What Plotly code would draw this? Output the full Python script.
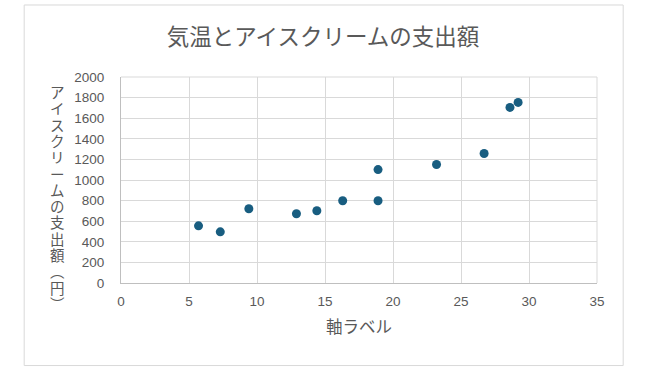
import plotly.graph_objects as go

temps = [5.7, 7.3, 9.4, 12.9, 14.4, 16.3, 18.9, 18.9, 23.2, 26.7, 28.6, 29.2]
spend = [555, 497, 721, 672, 701, 799, 799, 1101, 1150, 1257, 1705, 1753]

title_text = "気温とアイスクリームの支出額"
x_label = "軸ラベル"
y_label_chars = list("アイスクリームの支出額") + ["︵", "円", "︶"]

FONT = "Noto Sans CJK JP"
LABEL_FONT = "Liberation Sans, Noto Sans CJK JP"
GRAY = "#595959"

W, H = 653, 380
L, R, T, B = 121.3, 597.3, 77.3, 282.7

fig = go.Figure()
fig.add_trace(go.Scatter(
    x=temps, y=spend, mode="markers",
    marker=dict(size=9, color="#185d80"),
    hoverinfo="x+y", showlegend=False,
))

pw, ph = R - L, B - T
def px2paper_x(px):
    return (px - L) / pw
def px2paper_y(py):
    return (B - py) / ph

STEP = 16.3
ylab_text = "<br>".join(
    f"<span style='font-size:14.5px'>{ch}</span>" for ch in y_label_chars
)
first_c = 93.3
last_c = first_c + (len(y_label_chars) - 1) * STEP

fig.update_layout(
    width=W, height=H,
    margin=dict(l=L, r=W - R, t=T, b=H - B, pad=0),
    paper_bgcolor="white", plot_bgcolor="white",
    font=dict(family=FONT, color=GRAY),
    title=dict(text=title_text, x=323 / W, xanchor="center", y=1 - 37 / H, yanchor="middle",
               font=dict(size=22.5, color=GRAY, family=FONT)),
    xaxis=dict(range=[0, 35], dtick=5, tick0=0, showgrid=True, gridcolor="#d9d9d9", gridwidth=1,
               zeroline=False, showline=True, linecolor="#bfbfbf", linewidth=1, mirror=False,
               ticks="", tickfont=dict(size=13.5, color=GRAY, family="Liberation Sans"),
               ticklabelstandoff=6,
               title=dict(text=x_label, font=dict(size=16.5, color=GRAY, family=FONT), standoff=13)),
    yaxis=dict(range=[0, 2000], dtick=200, tick0=0, showgrid=True, gridcolor="#d9d9d9", gridwidth=1,
               zeroline=False, showline=True, linecolor="#bfbfbf", linewidth=1,
               ticks="", tickfont=dict(size=13.5, color=GRAY, family="Liberation Sans"),
               ticklabelstandoff=13),
    shapes=[
        dict(type="rect", xref="paper", yref="paper",
             x0=px2paper_x(24.5), x1=px2paper_x(623.5), y0=px2paper_y(365), y1=px2paper_y(5.5),
             line=dict(color="#d9d9d9", width=1), fillcolor="rgba(0,0,0,0)", layer="below"),
        dict(type="line", xref="paper", yref="paper", x0=1, x1=1, y0=0, y1=1,
             line=dict(color="#d9d9d9", width=1)),
        dict(type="line", xref="paper", yref="paper", x0=0, x1=1, y0=1, y1=1,
             line=dict(color="#d9d9d9", width=1)),
    ],
    annotations=[dict(
        text=ylab_text, xref="paper", yref="paper",
        x=px2paper_x(58), y=px2paper_y((first_c + last_c) / 2),
        xanchor="center", yanchor="middle", showarrow=False, align="center",
        borderpad=0, font=dict(size=STEP / 1.3, color=GRAY, family=LABEL_FONT),
    )],
)

fig.write_html("out.html", config={"displayModeBar": False},
               post_script="document.body.style.margin='0px';")
